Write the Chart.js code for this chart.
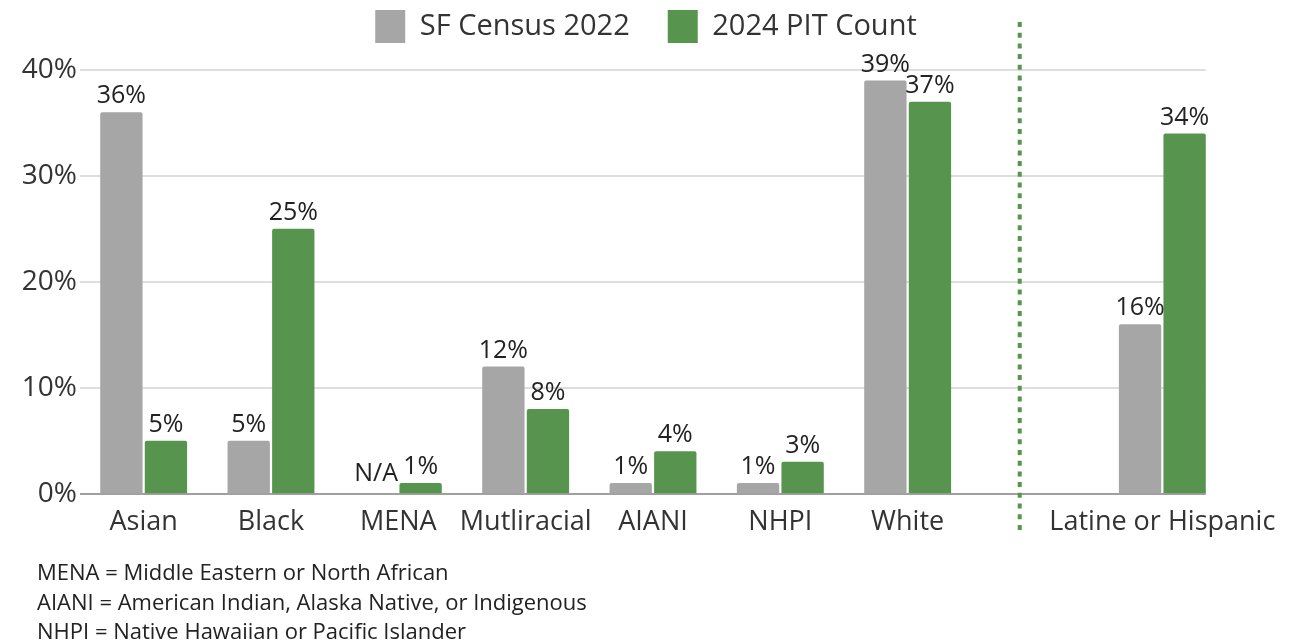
<!DOCTYPE html>
<html>
<head>
<meta charset="utf-8">
<script src="https://cdn.jsdelivr.net/npm/chart.js@4/dist/chart.umd.min.js"></script>
<style>
  html, body { margin: 0; padding: 0; background: #fff; }
  #wrap { position: relative; width: 1299px; height: 641px; overflow: hidden; }
  #c { position: absolute; left: 0; top: 0; }
  .note { position: absolute; left: 37px; font-family: "Open Sans", "Noto Sans", sans-serif; font-size: 22px; color: #222; white-space: nowrap; line-height: 1; }
</style>
</head>
<body>
<div id="wrap">
  <canvas id="c" width="1299" height="641"></canvas>
  <div class="note" style="top:560px">MENA = Middle Eastern or North African</div>
  <div class="note" style="top:590px">AIANI = American Indian, Alaska Native, or Indigenous</div>
  <div class="note" style="top:619px">NHPI = Native Hawaiian or Pacific Islander</div>
</div>
<script>
const categories = ["Asian", "Black", "MENA", "Mutliracial", "AIANI", "NHPI", "White", "", "Latine or Hispanic"];
const census2022 = [36, 5, null, 12, 1, 1, 39, null, 16];
const pit2024 = [5, 25, 1, 8, 4, 3, 37, null, 34];
const seriesNames = ["SF Census 2022", "2024 PIT Count"];
const yTicks = [0, 10, 20, 30, 40];
const naLabel = "N/A";
const naIndex = 2;
const dividerAfter = 6;

const GRAY = "#a6a6a6";
const GREEN = "#57954f";
const FONT = "'Open Sans', 'Noto Sans', sans-serif";
const LEGEND_PAD = 38;

const gridPlugin = {
  id: "shortGrid",
  beforeDatasetsDraw(chart) {
    const ys = chart.scales.y;
    const meta = chart.getDatasetMeta(1);
    const last = meta.data[meta.data.length - 1];
    const right = last.x + last.width / 2;
    const left = chart.chartArea.left;
    const ctx = chart.ctx;
    ctx.save();
    ctx.lineWidth = 2;
    yTicks.forEach(v => {
      const y = Math.round(ys.getPixelForValue(v));
      ctx.strokeStyle = v === 0 ? "#a0a0a0" : "#dedede";
      ctx.beginPath();
      ctx.moveTo(left, y);
      ctx.lineTo(right, y);
      ctx.stroke();
    });
    ctx.restore();
  }
};

const legendGapPlugin = {
  id: "legendGap",
  beforeLayout(chart) {
    const lg = chart.legend;
    if (lg && !lg._gapPatched) {
      const f = lg.fit;
      lg.fit = function () { f.call(this); this.height = this.height - (LEGEND_PAD - 10) + 17; };
      const d = lg.draw;
      lg.draw = function () {
        const t = this.top, l = this.left, r = this.right;
        this.top = t - (LEGEND_PAD - 10);
        this.left = l + 33;
        this.right = r + 33;
        d.call(this);
        this.top = t; this.left = l; this.right = r;
      };
      lg._gapPatched = true;
    }
  }
};

const labelPlugin = {
  id: "barLabels",
  afterDatasetsDraw(chart) {
    const ctx = chart.ctx;
    ctx.save();
    ctx.font = "25px " + FONT;
    ctx.fillStyle = "#222";
    ctx.textAlign = "center";
    ctx.textBaseline = "alphabetic";
    chart.data.datasets.forEach((ds, di) => {
      const meta = chart.getDatasetMeta(di);
      meta.data.forEach((bar, i) => {
        const v = ds.data[i];
        if (v === null) {
          if (di === 0 && i === naIndex) {
            const y0 = chart.scales.y.getPixelForValue(0);
            ctx.fillText(naLabel, bar.x, y0 - 13);
          }
          return;
        }
        ctx.fillText(v + "%", bar.x, bar.y - 9);
      });
    });
    ctx.restore();
  }
};

const dividerPlugin = {
  id: "divider",
  afterDraw(chart) {
    const xs = chart.scales.x;
    const a = xs.getPixelForValue(dividerAfter);
    const b = xs.getPixelForValue(dividerAfter + 1);
    const x = a + (b - a) * 0.88;
    const ctx = chart.ctx;
    ctx.save();
    ctx.strokeStyle = GREEN;
    ctx.lineWidth = 4;
    ctx.setLineDash([5, 5.7]);
    ctx.beginPath();
    ctx.moveTo(x, 22);
    ctx.lineTo(x, 533);
    ctx.stroke();
    ctx.restore();
  }
};

new Chart(document.getElementById("c"), {
  type: "bar",
  data: {
    labels: categories,
    datasets: [
      { label: seriesNames[0], data: census2022, backgroundColor: GRAY, borderRadius: 2, borderSkipped: "bottom" },
      { label: seriesNames[1], data: pit2024, backgroundColor: GREEN, borderRadius: 2, borderSkipped: "bottom" }
    ]
  },
  options: {
    responsive: false,
    animation: false,
    devicePixelRatio: 1,
    categoryPercentage: 0.7,
    barPercentage: 0.95,
    layout: { padding: { left: 0, right: 73, top: 0, bottom: 89 } },
    plugins: {
      legend: {
        position: "top",
        labels: {
          boxWidth: 30,
          boxHeight: 33,
          padding: LEGEND_PAD,
          color: "#333",
          font: { family: FONT, size: 29 }
        }
      },
      tooltip: { enabled: false }
    },
    scales: {
      x: {
        grid: { display: false, drawTicks: false },
        border: { display: false },
        ticks: {
          color: "#333",
          padding: 13,
          maxRotation: 0,
          autoSkip: false,
          font: { family: FONT, size: 27 }
        }
      },
      y: {
        min: 0,
        max: 40,
        afterFit(s) { s.width = 80; },
        afterBuildTicks(s) { s.ticks = yTicks.map(v => ({ value: v })); },
        grid: { display: false, drawTicks: false },
        border: { display: false },
        ticks: {
          color: "#333",
          padding: 3,
          callback: (v) => v + "%",
          font: { family: FONT, size: 28 }
        }
      }
    }
  },
  plugins: [legendGapPlugin, gridPlugin, labelPlugin, dividerPlugin]
});
</script>
</body>
</html>
